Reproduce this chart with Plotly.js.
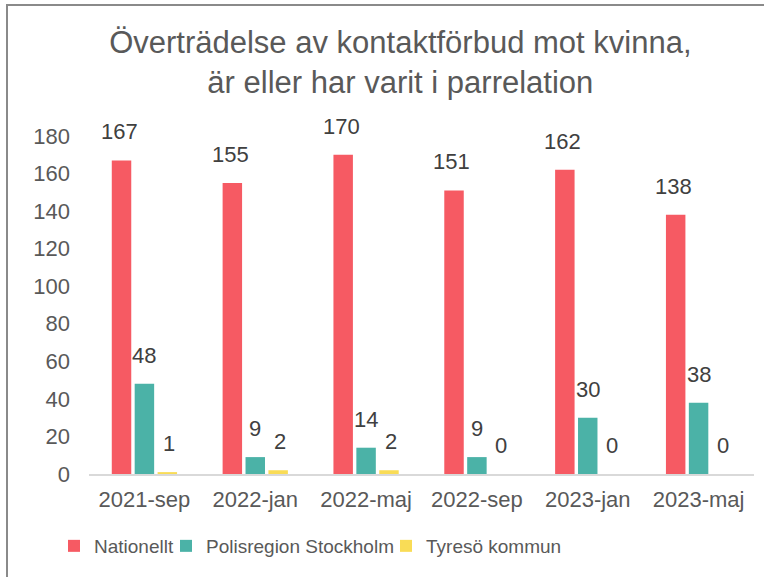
<!DOCTYPE html>
<html><head><meta charset="utf-8">
<script src="https://cdn.plot.ly/plotly-3.0.1.min.js"></script>
<style>
html,body{margin:0;padding:0;background:#fff;}
#wrap{position:relative;width:764px;height:577px;overflow:hidden;}
#chart{width:764px;height:577px;}
#frame{position:absolute;left:6px;top:4px;width:800px;height:700px;border:2px solid #8a8a8a;pointer-events:none;box-sizing:border-box;}
</style></head>
<body><div id="wrap"><div id="chart"></div><div id="frame"></div></div>
<script>
const categories = ['2021-sep','2022-jan','2022-maj','2022-sep','2023-jan','2023-maj'];
const nationellt = [167,155,170,151,162,138];
const polisregion = [48,9,14,9,30,38];
const tyreso = [1,2,2,0,0,0];
const seriesNames = ['Nationellt','Polisregion Stockholm','Tyresö kommun'];
const colors = ['#F65A63','#4BB2A7','#F9DC56'];
const yTicks = [0,20,40,60,80,100,120,140,160,180];

const series = [nationellt, polisregion, tyreso];
const legendIds = ['legend','legend2','legend3'];
const traces = series.map((vals,i)=>({
  type:'bar', name:seriesNames[i], x:categories, y:vals, legend:legendIds[i],
  marker:{color:colors[i]}, hoverinfo:'skip'
}));
const shifts = [-25,0,24.5];
const annotations = [];
series.forEach((vals,i)=>{
  vals.forEach((v,j)=>{
    annotations.push({x:categories[j], y:v, xref:'x', yref:'y', text:String(v),
      showarrow:false, xshift:shifts[i], yanchor:'bottom', yshift:14,
      font:{family:'Liberation Sans, Arial, sans-serif', size:22, color:'#404040'}});
  });
});

const legendFont = {family:'Liberation Sans, Arial, sans-serif', size:19, color:'#595959'};
function mkLegend(xpx){
  return {orientation:'h', xref:'container', yref:'container', x:xpx/764, y:1-546/577,
    xanchor:'left', yanchor:'middle', font:legendFont, itemwidth:30, bgcolor:'rgba(0,0,0,0)'};
}

const layout = {
  width:764, height:577,
  margin:{l:89, r:10, t:136, b:103},
  paper_bgcolor:'#fff', plot_bgcolor:'#fff',
  title:{text:'Överträdelse av kontaktförbud mot kvinna,<br>är eller har varit i parrelation',
    x:0.524, xref:'container', xanchor:'center', y:1-53/577, yref:'container', yanchor:'middle',
    font:{family:'Liberation Sans, Arial, sans-serif', size:31, color:'#595959'}},
  barmode:'group', bargap:0.38, bargroupgap:0.15,
  xaxis:{type:'category', showline:true, linecolor:'#d9d9d9', linewidth:2, ticks:'', showgrid:false,
    ticklabelstandoff:5, tickfont:{family:'Liberation Sans, Arial, sans-serif', size:22, color:'#595959'}},
  yaxis:{range:[0,180], tickvals:yTicks, ticktext:yTicks.map(String), showgrid:false, zeroline:false,
    showline:false, ticks:'', ticklabelstandoff:18,
    tickfont:{family:'Liberation Sans, Arial, sans-serif', size:22, color:'#595959'}},
  showlegend:true,
  legend:mkLegend(54), legend2:mkLegend(166), legend3:mkLegend(386),
  annotations:annotations
};
Plotly.newPlot('chart', traces, layout, {displayModeBar:false, staticPlot:true});
</script></body></html>
